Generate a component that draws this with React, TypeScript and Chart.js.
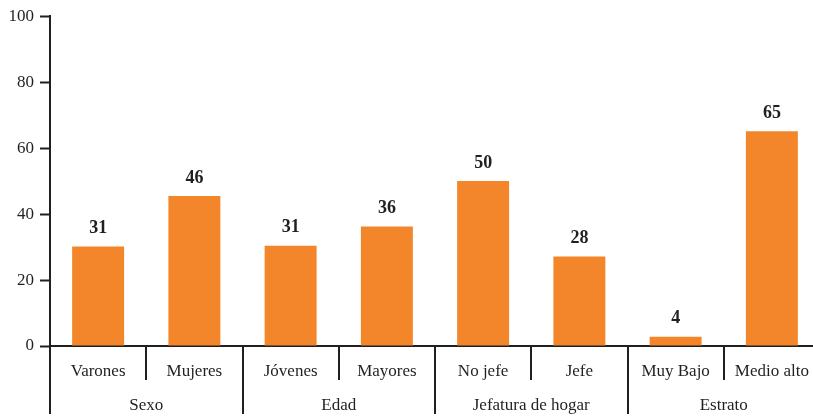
import React, { useEffect, useRef } from "react";
import { Chart, registerables } from "chart.js";

Chart.register(...registerables);

const categories = ["Varones", "Mujeres", "Jóvenes", "Mayores", "No jefe", "Jefe", "Muy Bajo", "Medio alto"];
const groups = ["Sexo", "Edad", "Jefatura de hogar", "Estrato"];
const values = [30.2, 45.5, 30.4, 36.2, 50, 27.1, 2.8, 65.1];
const valueLabels = ["31", "46", "31", "36", "50", "28", "4", "65"];
const yTicks = [0, 20, 40, 60, 80, 100];

const ORANGE = "#F3862A";
const INK = "#231F20";
const FONT = "'Liberation Serif', 'DejaVu Serif', serif";

const overlay = {
  id: "overlay",
  afterDraw(chart: any) {
    const ctx = chart.ctx;
    const x = chart.scales.x;
    const area = chart.chartArea;
    const n = categories.length;
    const step = x.getPixelForValue(1) - x.getPixelForValue(0);
    const base = area.bottom;
    ctx.save();
    ctx.strokeStyle = INK;
    ctx.lineWidth = 2;
    for (let i = 0; i <= n; i++) {
      const px = Math.round(x.getPixelForValue(i) - step / 2);
      const long = i % 2 === 0;
      ctx.beginPath();
      ctx.moveTo(px, base);
      ctx.lineTo(px, base + (long ? 68 : 34));
      ctx.stroke();
    }
    ctx.fillStyle = INK;
    ctx.textAlign = "center";
    ctx.textBaseline = "middle";
    ctx.font = `17px ${FONT}`;
    categories.forEach((c, i) => {
      ctx.fillText(c, x.getPixelForValue(i), base + 26);
    });
    groups.forEach((g, gi) => {
      const cx = (x.getPixelForValue(gi * 2) + x.getPixelForValue(gi * 2 + 1)) / 2;
      ctx.fillText(g, cx, base + 60);
    });
    const meta = chart.getDatasetMeta(0);
    ctx.font = `bold 18px ${FONT}`;
    meta.data.forEach((bar: any, i: number) => {
      ctx.fillText(valueLabels[i], bar.x, bar.y - 18);
    });
    ctx.restore();
  },
};

export default function App() {
  const ref = useRef<HTMLCanvasElement>(null);
  useEffect(() => {
    const chart = new Chart(ref.current!, {
      type: "bar",
      data: {
        labels: categories,
        datasets: [
          {
            data: values,
            backgroundColor: ORANGE,
            barPercentage: 0.54,
            categoryPercentage: 1,
          },
        ],
      },
      options: {
        animation: false,
        responsive: false,
        maintainAspectRatio: false,
        layout: { padding: { top: 10, right: 0, left: 0, bottom: 0 } },
        plugins: { legend: { display: false }, tooltip: { enabled: false } },
        scales: {
          x: {
            grid: { display: false },
            ticks: { display: false },
            border: { display: true, color: INK, width: 2 },
            afterFit: (s: any) => {
              s.height = 71;
            },
          },
          y: {
            min: 0,
            max: 100,
            afterBuildTicks: (s: any) => {
              s.ticks = yTicks.map((v) => ({ value: v }));
            },
            grid: {
              drawOnChartArea: false,
              drawTicks: true,
              tickLength: 10,
              tickWidth: 2,
              tickColor: INK,
            },
            border: { display: true, color: INK, width: 2 },
            ticks: {
              color: INK,
              padding: 6,
              font: { family: FONT, size: 17 },
            },
            afterFit: (s: any) => {
              s.width = 50;
            },
          },
        },
      },
      plugins: [overlay],
    });
    return () => chart.destroy();
  }, []);
  return (
    <div style={{ position: "fixed", left: 0, top: 0, width: 820, height: 417 }}>
      <canvas ref={ref} width={820} height={417} style={{ width: 820, height: 417 }} />
    </div>
  );
}
